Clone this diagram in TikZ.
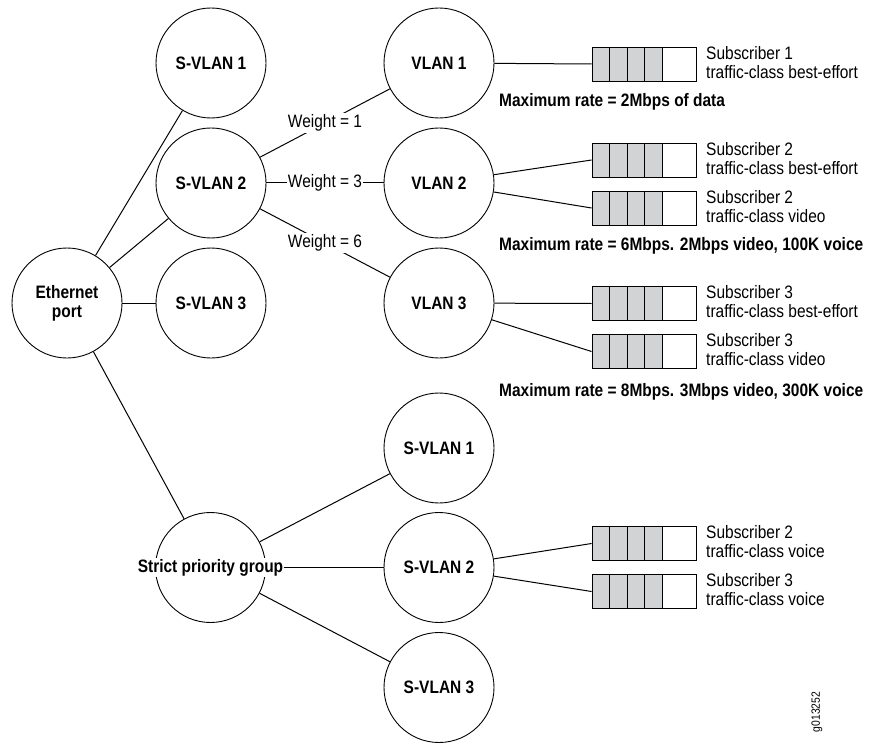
\documentclass[tikz,border=0pt]{standalone}
\usepackage{fontspec}
\setmainfont{Liberation Sans}[FakeStretch=0.86]
\definecolor{qgray}{RGB}{209,211,212}
\begin{document}
\begin{tikzpicture}[x=1pt,y=-1pt,
  font=\fontsize{18}{19}\selectfont,
  circ/.style={draw, circle, minimum size=110pt, inner sep=0pt, line width=0.9pt,
    font=\fontsize{18}{19}\selectfont\bfseries, align=center},
  link/.style={line width=1pt},
  wlabel/.style={fill=white, inner sep=2pt, font=\fontsize{18}{19}\selectfont},
  sublabel/.style={anchor=west, align=left, inner sep=0pt, font=\fontsize{18}{19}\selectfont},
  ratelabel/.style={anchor=west, inner sep=0pt, font=\fontsize{18}{19}\selectfont\bfseries},
  queue/.style={draw, line width=0.9pt, minimum width=104pt, minimum height=34pt, inner sep=0pt,
    path picture={
      \fill[qgray] (path picture bounding box.south west) rectangle ([xshift=70pt]path picture bounding box.north west);
      \foreach \i in {1,2,3,4}
        \draw[line width=0.9pt] ([xshift=\i*17.5pt]path picture bounding box.south west) -- ([xshift=\i*17.5pt]path picture bounding box.north west);
    }}
]
\useasboundingbox (0,0) rectangle (869,743);

% circles
\node[circ] (eth) at (67,303) {Ethernet\\port};
\node[circ] (s1) at (211,63) {S-VLAN 1};
\node[circ] (s2) at (211,183) {S-VLAN 2};
\node[circ] (s3) at (211,303) {S-VLAN 3};
\node[circ] (v1) at (439,63) {VLAN 1};
\node[circ] (v2) at (439,183) {VLAN 2};
\node[circ] (v3) at (439,303) {VLAN 3};
\node[circ] (sp) at (210.5,567.5) {};
\node[circ] (b1) at (439,448) {S-VLAN 1};
\node[circ] (b2) at (439,567.5) {S-VLAN 2};
\node[circ] (b3) at (439,687.5) {S-VLAN 3};

% queues
\node[queue] (q1) at (644,64) {};
\node[queue] (q2) at (644,160) {};
\node[queue] (q3) at (644,208) {};
\node[queue] (q4) at (644,303.5) {};
\node[queue] (q5) at (644,351.5) {};
\node[queue] (q6) at (644,543.5) {};
\node[queue] (q7) at (644,591.5) {};

% subscriber labels
\node[sublabel] (l1) at (706,62.5) {Subscriber 1\\traffic-class best-effort};
\node[sublabel] (l2) at (706,158.5) {Subscriber 2\\traffic-class best-effort};
\node[sublabel] (l3) at (706,206.5) {Subscriber 2\\traffic-class video};
\node[sublabel] (l4) at (706,302) {Subscriber 3\\traffic-class best-effort};
\node[sublabel] (l5) at (706,350) {Subscriber 3\\traffic-class video};
\node[sublabel] (l6) at (706,542) {Subscriber 2\\traffic-class voice};
\node[sublabel] (l7) at (706,590) {Subscriber 3\\traffic-class voice};

% rate labels
\node[ratelabel] (r1) at (499,102) {Maximum rate = 2Mbps of data};
\node[ratelabel] (r2) at (499,246) {Maximum rate = 6Mbps. 2Mbps video, 100K voice};
\node[ratelabel] (r3) at (499,392) {Maximum rate = 8Mbps. 3Mbps video, 300K voice};

% figure id
\node[rotate=90, inner sep=0pt, font=\fontsize{12}{12}\selectfont] (gid) at (817,712) {g013252};

% connectors
\draw[link] (eth) -- (s1);
\draw[link] (eth) -- (s2);
\draw[link] (eth) -- (s3);
\draw[link] (eth) -- (sp);
\draw[link] (s2) -- node[wlabel] (w1) {Weight = 1} (v1);
\draw[link] (s2) -- node[wlabel, inner xsep=1pt] (w3) {Weight = 3} (v2);
\draw[link] (s2) -- node[wlabel] (w6) {Weight = 6} (v3);
\draw[link] (v1) -- (q1.west);
\draw[link] (v2) -- (q2.west);
\draw[link] (v2) -- (q3.west);
\draw[link] (v3) -- (q4.west);
\draw[link] (v3) -- (q5.west);
\draw[link] (sp) -- (b1);
\draw[link] (sp) -- (b3);
\draw[link] (b2) -- (q6.west);
\draw[link] (b2) -- (q7.west);

% strict priority text over its circle
\node[fill=white, inner xsep=0.5pt, inner ysep=1pt, font=\fontsize{18}{19}\selectfont\bfseries] (spt) at (210.5,567.5) {Strict priority group};
\draw[link] (spt.east) -- (b2);
\end{tikzpicture}
\end{document}
